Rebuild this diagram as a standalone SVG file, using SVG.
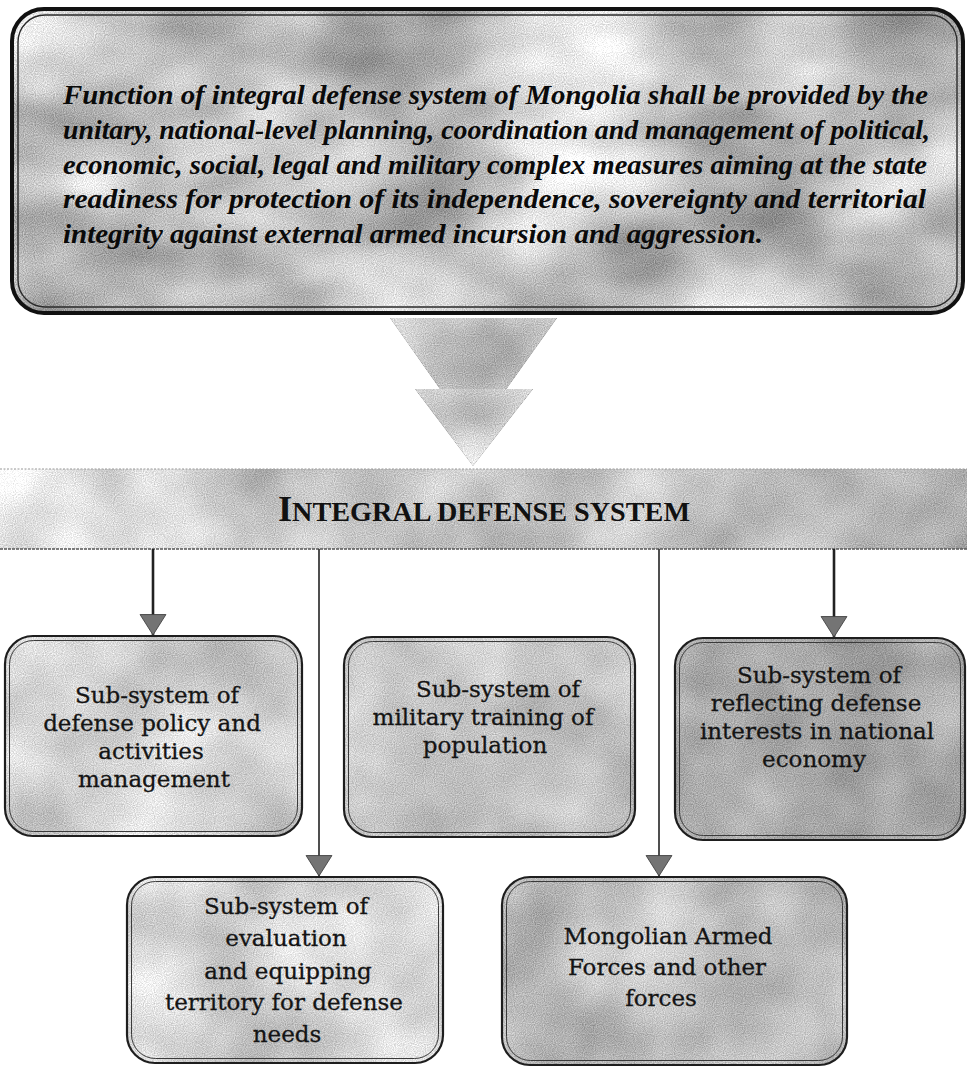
<svg xmlns="http://www.w3.org/2000/svg" width="967" height="1068" viewBox="0 0 967 1068">
<style>
  .frame-outer{fill:none;stroke:#1e1e1e;stroke-width:2.2}
  .frame-inner{fill:none;stroke:#3a3a3a;stroke-width:1}
  .lead{font-family:"Liberation Serif","Times New Roman",serif;font-weight:bold;font-style:italic;font-size:28px;fill:#0a0a0a}
  .lbl{font-family:"DejaVu Serif","Liberation Serif",serif;font-size:23px;fill:#141414;stroke:#141414;stroke-width:0.3;text-anchor:middle}
  .title{font-family:"Liberation Serif","Times New Roman",serif;font-weight:bold;fill:#111}
  .conn-dark{stroke:#222;stroke-width:2.6;fill:none}
  .conn-lite{stroke:#3c3c3c;stroke-width:1.8;fill:none}
</style>
<defs>
  <filter id="texStrong" x="0" y="0" width="1" height="1" color-interpolation-filters="sRGB">
    <feTurbulence type="fractalNoise" baseFrequency="0.006 0.01" numOctaves="3" seed="4" result="lo"/>
    <feTurbulence type="fractalNoise" baseFrequency="0.9" numOctaves="1" seed="9" result="hi"/>
    <feColorMatrix in="lo" type="matrix" values="1 0 0 0 0 1 0 0 0 0 1 0 0 0 0 0 0 0 0 1" result="lg"/>
    <feColorMatrix in="hi" type="matrix" values="1 0 0 0 0 1 0 0 0 0 1 0 0 0 0 0 0 0 0 1" result="hg"/>
    <feComposite in="SourceGraphic" in2="lg" operator="arithmetic" k1="0" k2="1" k3="0.7" k4="-0.35" result="a"/>
    <feComposite in="a" in2="hg" operator="arithmetic" k1="0" k2="1" k3="0.45" k4="-0.225" result="b"/>
    <feComposite in="b" in2="SourceGraphic" operator="in"/>
  </filter>
  <filter id="tex" x="0" y="0" width="1" height="1" color-interpolation-filters="sRGB">
    <feTurbulence type="fractalNoise" baseFrequency="0.01" numOctaves="3" seed="11" result="lo"/>
    <feTurbulence type="fractalNoise" baseFrequency="0.9" numOctaves="1" seed="2" result="hi"/>
    <feColorMatrix in="lo" type="matrix" values="1 0 0 0 0 1 0 0 0 0 1 0 0 0 0 0 0 0 0 1" result="lg"/>
    <feColorMatrix in="hi" type="matrix" values="1 0 0 0 0 1 0 0 0 0 1 0 0 0 0 0 0 0 0 1" result="hg"/>
    <feComposite in="SourceGraphic" in2="lg" operator="arithmetic" k1="0" k2="1" k3="0.35" k4="-0.175" result="a"/>
    <feComposite in="a" in2="hg" operator="arithmetic" k1="0" k2="1" k3="0.4" k4="-0.2" result="b"/>
    <feComposite in="b" in2="SourceGraphic" operator="in"/>
  </filter>
  <linearGradient id="barFill" x1="0" y1="0" x2="1" y2="0">
    <stop offset="0" stop-color="#f6f6f6"/>
    <stop offset="0.1" stop-color="#dadada"/>
    <stop offset="0.3" stop-color="#c8c8c8"/>
    <stop offset="0.75" stop-color="#c2c2c2"/>
    <stop offset="1" stop-color="#b0b0b0"/>
  </linearGradient>
  <radialGradient id="triFill" cx="0.5" cy="0.4" r="0.65">
    <stop offset="0" stop-color="#a9a9a9"/>
    <stop offset="1" stop-color="#dedede"/>
  </radialGradient>
  <marker id="head" markerUnits="userSpaceOnUse" markerWidth="24" markerHeight="28" viewBox="-1 -13 21 26" refX="19" refY="0" orient="auto">
    <path d="M0,-12 L19,0 L0,12 z" fill="#747474" stroke="#3e3e3e" stroke-width="0.8"/>
  </marker>
</defs>

<g id="node-function">
  <rect x="12" y="9" width="951" height="304" rx="32" fill="#c4c4c4" filter="url(#texStrong)"/>
  <rect x="12" y="9" width="951" height="304" rx="32" fill="none" stroke="#111" stroke-width="4"/>
  <rect x="18" y="15" width="939" height="292" rx="27" fill="none" stroke="#2a2a2a" stroke-width="1.4"/>
  <text class="lead" x="63" y="104" textLength="865" lengthAdjust="spacingAndGlyphs">Function of integral defense system of Mongolia shall be provided by the</text>
  <text class="lead" x="63" y="139" textLength="867" lengthAdjust="spacingAndGlyphs">unitary, national-level planning, coordination and management of political,</text>
  <text class="lead" x="63" y="174" textLength="864" lengthAdjust="spacingAndGlyphs">economic, social, legal and military complex measures aiming at the state</text>
  <text class="lead" x="63" y="208" textLength="863" lengthAdjust="spacingAndGlyphs">readiness for protection of its independence, sovereignty and territorial</text>
  <text class="lead" x="63" y="243" textLength="700" lengthAdjust="spacingAndGlyphs">integrity against external armed incursion and aggression.</text>
</g>

<g id="node-integral">
  <rect x="0" y="469" width="967" height="80" fill="url(#barFill)" filter="url(#tex)"/>
  <line x1="0" y1="469" x2="967" y2="469" stroke="#9a9a9a" stroke-width="1.2" stroke-dasharray="2 1.5"/>
  <line x1="0" y1="549" x2="967" y2="549" stroke="#555" stroke-width="1.6" stroke-dasharray="3 1"/>
  <text class="title" x="278" y="521" textLength="412" lengthAdjust="spacingAndGlyphs"><tspan font-size="36">I</tspan><tspan font-size="28">NTEGRAL DEFENSE SYSTEM</tspan></text>
</g>

<g id="connectors">
  <g id="flow-arrow" filter="url(#tex)">
    <polygon points="390,318 557,318 473,436" fill="url(#triFill)"/>
    <polygon points="415,389 533,389 473,466" fill="url(#triFill)"/>
  </g>
  <line class="conn-dark" x1="153" y1="549" x2="153" y2="635" marker-end="url(#head)"/>
  <line class="conn-lite" x1="319" y1="549" x2="319" y2="876" marker-end="url(#head)"/>
  <line class="conn-lite" x1="659" y1="549" x2="659" y2="876" marker-end="url(#head)"/>
  <line class="conn-dark" x1="834" y1="549" x2="834" y2="637" marker-end="url(#head)"/>
</g>

<g id="node-policy">
  <rect x="5" y="636" width="297" height="200" rx="28" fill="#d3d3d3" filter="url(#tex)"/>
  <rect x="5" y="636" width="297" height="200" rx="28" class="frame-outer"/>
  <rect x="9.5" y="640.5" width="288" height="191" rx="24" class="frame-inner"/>
  <text class="lbl" x="157" y="703">Sub-system of</text>
  <text class="lbl" x="152" y="731">defense policy and</text>
  <text class="lbl" x="151" y="759">activities</text>
  <text class="lbl" x="154" y="787">management</text>
</g>

<g id="node-training">
  <rect x="344" y="637" width="291" height="200" rx="28" fill="#c4c4c4" filter="url(#tex)"/>
  <rect x="344" y="637" width="291" height="200" rx="28" class="frame-outer"/>
  <rect x="348.5" y="641.5" width="282" height="191" rx="24" class="frame-inner"/>
  <text class="lbl" x="498" y="697">Sub-system of</text>
  <text class="lbl" x="483" y="725">military training of</text>
  <text class="lbl" x="485" y="753">population</text>
</g>

<g id="node-economy">
  <rect x="675" y="638" width="290" height="202" rx="28" fill="#ababab" filter="url(#tex)"/>
  <rect x="675" y="638" width="290" height="202" rx="28" class="frame-outer" stroke-width="2.6"/>
  <rect x="679.5" y="642.5" width="281" height="193" rx="24" class="frame-inner"/>
  <text class="lbl" x="819" y="683">Sub-system of</text>
  <text class="lbl" x="816" y="711">reflecting defense</text>
  <text class="lbl" x="817" y="739">interests in national</text>
  <text class="lbl" x="814" y="767">economy</text>
</g>

<g id="node-territory">
  <rect x="127" y="877" width="316" height="186" rx="28" fill="#d5d5d5" filter="url(#tex)"/>
  <rect x="127" y="877" width="316" height="186" rx="28" class="frame-outer"/>
  <rect x="131.5" y="881.5" width="307" height="177" rx="24" class="frame-inner"/>
  <text class="lbl" x="286" y="914">Sub-system of</text>
  <text class="lbl" x="286" y="946">evaluation</text>
  <text class="lbl" x="288" y="979">and equipping</text>
  <text class="lbl" x="284" y="1010">territory for defense</text>
  <text class="lbl" x="287" y="1042">needs</text>
</g>

<g id="node-forces">
  <rect x="502" y="877" width="345" height="188" rx="28" fill="#bebebe" filter="url(#tex)"/>
  <rect x="502" y="877" width="345" height="188" rx="28" class="frame-outer" stroke-width="2.6"/>
  <rect x="506.5" y="881.5" width="336" height="179" rx="24" class="frame-inner"/>
  <text class="lbl" x="668" y="944">Mongolian Armed</text>
  <text class="lbl" x="667" y="975">Forces and other</text>
  <text class="lbl" x="661" y="1006">forces</text>
</g>
</svg>
